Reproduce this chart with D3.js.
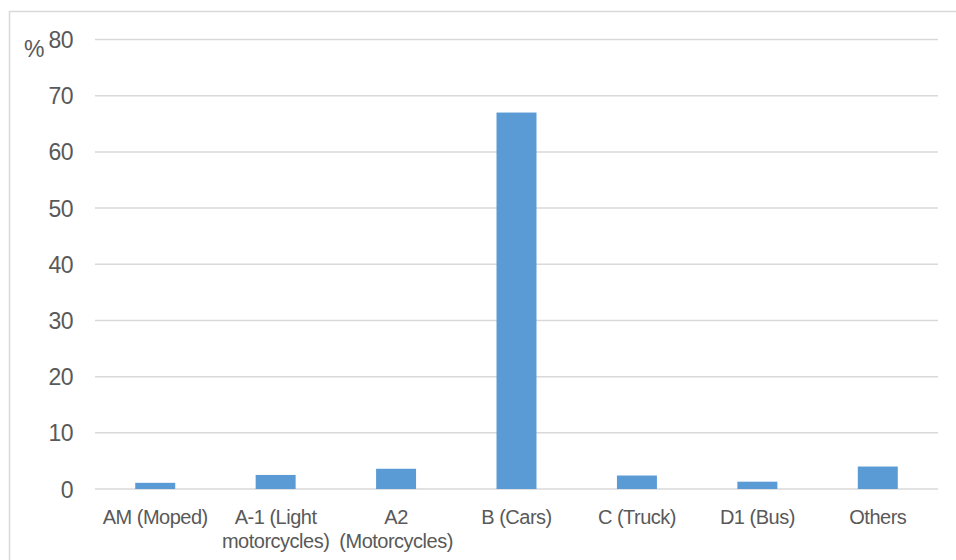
<!DOCTYPE html>
<html>
<head>
<meta charset="utf-8">
<script src="https://cdn.jsdelivr.net/npm/d3@7/dist/d3.min.js"></script>
<style>
  html, body { margin: 0; padding: 0; background: #fff; }
  svg { display: block; }
  text { font-family: "Liberation Sans", Arial, sans-serif; fill: #595959; }
</style>
</head>
<body>
<svg id="chart" width="956" height="560"></svg>
<script>
// Share of driving licences by category (%)
const categories = [
  ["AM (Moped)"],
  ["A-1 (Light", "motorcycles)"],
  ["A2", "(Motorcycles)"],
  ["B (Cars)"],
  ["C (Truck)"],
  ["D1 (Bus)"],
  ["Others"]
];
const values = [1.1, 2.5, 3.6, 67, 2.4, 1.3, 4.0];
const yTicks = [0, 10, 20, 30, 40, 50, 60, 70, 80];
const unitLabel = "%";

const svg = d3.select("#chart");
const W = 956, H = 560;
const plot = { left: 95, right: 938, top: 39.5, bottom: 489 };

// outer chart frame (extends past the right and bottom edges)
svg.append("rect")
  .attr("x", 9.5).attr("y", 11.5)
  .attr("width", W + 20).attr("height", H + 20)
  .attr("fill", "#fff")
  .attr("stroke", "#D9D9D9").attr("stroke-width", 1.5);

const x = d3.scaleBand()
  .domain(d3.range(categories.length))
  .range([plot.left, plot.right])
  .paddingInner(0.668)
  .paddingOuter(0.334);

const y = d3.scaleLinear()
  .domain([0, 80])
  .range([plot.bottom, plot.top]);

// horizontal gridlines
svg.append("g")
  .selectAll("line")
  .data(yTicks)
  .join("line")
  .attr("x1", plot.left).attr("x2", plot.right)
  .attr("y1", d => y(d)).attr("y2", d => y(d))
  .attr("stroke", "#D9D9D9").attr("stroke-width", 1.5);

// y-axis tick labels
svg.append("g")
  .selectAll("text")
  .data(yTicks)
  .join("text")
  .attr("x", 73)
  .attr("y", d => y(d) + 8.5)
  .attr("text-anchor", "end")
  .style("font-size", "23px")
  .style("letter-spacing", "-0.5px")
  .text(d => d);

svg.append("text")
  .attr("x", 24).attr("y", 57)
  .style("font-size", "23px")
  .text(unitLabel);

// bars
svg.append("g")
  .selectAll("rect")
  .data(values)
  .join("rect")
  .attr("x", (d, i) => x(i))
  .attr("width", x.bandwidth())
  .attr("y", d => y(d))
  .attr("height", d => y(0) - y(d))
  .attr("fill", "#5B9BD5");

// category labels (wrapped)
const lab = svg.append("g")
  .selectAll("text")
  .data(categories)
  .join("text")
  .attr("x", (d, i) => x(i) + x.bandwidth() / 2)
  .attr("y", 524)
  .attr("text-anchor", "middle")
  .style("font-size", "20px")
  .style("letter-spacing", "-0.5px");
lab.selectAll("tspan")
  .data(d => d)
  .join("tspan")
  .attr("x", function() { return d3.select(this.parentNode).attr("x"); })
  .attr("dy", (d, i) => i === 0 ? 0 : 24)
  .text(d => d);
</script>
</body>
</html>
